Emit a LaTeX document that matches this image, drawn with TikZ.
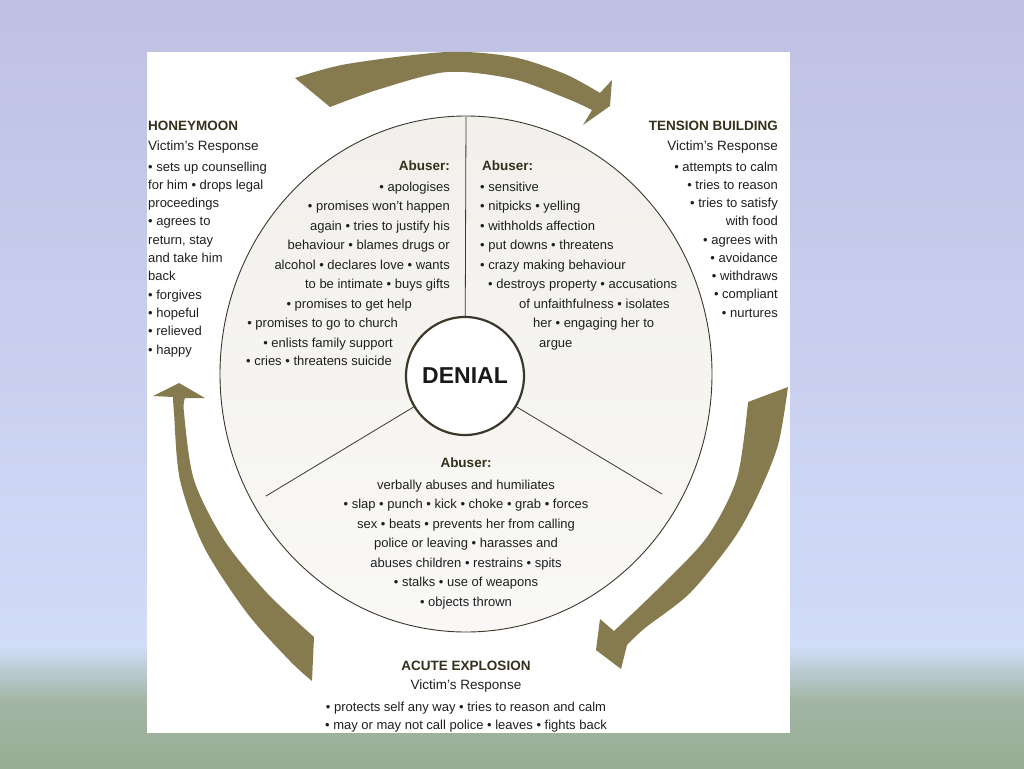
\documentclass[tikz,border=0pt]{standalone}
\usepackage{fontspec}
\setmainfont{Liberation Sans}
\usetikzlibrary{shapes.geometric}
\definecolor{bgtop}{HTML}{BFC1E2}
\definecolor{bgmid}{HTML}{D1DCF9}
\definecolor{bggrn}{HTML}{A3B5A5}
\definecolor{bgbot}{HTML}{97AD93}
\definecolor{olive}{HTML}{867B4F}
\definecolor{rim}{HTML}{3B382A}
\definecolor{ink}{HTML}{1F1F1F}
\definecolor{ttlink}{HTML}{33301C}

\begin{document}
\begin{tikzpicture}[x=1pt,y=-1pt,
  body/.style={text=ink,font=\fontsize{13}{15}\selectfont,inner sep=0pt},
  sub/.style={text=ink,font=\fontsize{13.5}{15}\selectfont,inner sep=0pt},
  ttl/.style={text=ttlink,font=\fontsize{13.5}{15}\selectfont\bfseries,inner sep=0pt},
  band/.style={fill=olive,draw=none},
  divider/.style={draw=rim,line width=0.8pt}]
\useasboundingbox (0,0) rectangle (1024,768);
\shade[top color=bgtop,bottom color=bgmid] (0,0) rectangle (1024,646);
\shade[top color=bgmid,bottom color=bggrn] (0,646) rectangle (1024,700);
\shade[top color=bggrn,bottom color=bgbot] (0,700) rectangle (1024,768);
\fill[white] (147,52) rectangle (790,733);

\node[ellipse,draw=rim,line width=0.9pt,top color=black!5!olive!11,bottom color=olive!5,minimum width=492pt,minimum height=516pt,inner sep=0pt] (cyc) at (466,374) {};
\node[circle,draw=rim,line width=2.2pt,fill=white,minimum size=118pt,inner sep=0pt,text=black!90,font=\fontsize{23}{25}\selectfont\bfseries] (denial) at (465,376) {DENIAL};
\coordinate (e1) at (466,117);
\coordinate (e2) at (266,496);
\coordinate (e3) at (662,494);
\draw[divider] (denial) -- (e1);
\draw[divider] (denial) -- (e2);
\draw[divider] (denial) -- (e3);

\fill[band] (295,78) -- plot[smooth] coordinates {(295,78) (347,64) (447,52) (513,57) (565,74) (600,93)} -- (612,80) -- (610,106) -- (583,125) -- plot[smooth] coordinates {(592,110) (568,99) (513,79) (447,72) (380,89) (330,107)} -- cycle;
\fill[band] (788,387) -- plot[smooth] coordinates {(788,387) (778,445) (757,497) (733,540) (690,593) (645,628) (627,645)} -- (621,669) -- (596,650) -- (600,619) -- plot[smooth] coordinates {(614,631) (660,587) (707,537) (737,478) (748,402)} -- cycle;
\fill[band] (312,681) -- plot[smooth] coordinates {(312,681) (290,661) (247,613) (204,547) (180,480) (174,413) (173,397)} -- (153,396) -- (179,383) -- (205,398) -- plot[smooth] coordinates {(185,398) (184,413) (194,480) (224,540) (267,593) (314,637)} -- cycle;

\node[ttl,anchor=base west] (hmttl) at (148,130) {HONEYMOON};
\node[sub,anchor=base west] (hmsub) at (148,150) {Victim’s Response};
\foreach \t [count=\i] in {• sets up counselling,for him • drops legal,proceedings,• agrees to,{return, stay},and take him,back,• forgives,• hopeful,• relieved,• happy}
  \node[body,anchor=base west] (hm\i) at (148,{171+(\i-1)*18.3}) {\t};

\node[ttl,anchor=base east] (tbttl) at (778,130) {TENSION BUILDING};
\node[sub,anchor=base east] (tbsub) at (778,150) {Victim’s Response};
\foreach \t [count=\i] in {• attempts to calm,• tries to reason,• tries to satisfy,with food,• agrees with,• avoidance,• withdraws,• compliant,• nurtures}
  \node[body,anchor=base east] (tb\i) at (778,{171+(\i-1)*18.25}) {\t};

\node[ttl,anchor=base east] (ulab) at (450,170) {Abuser:};
\foreach \x/\y/\t [count=\i] in {450/191/• apologises,450/210.5/• promises won’t happen,450/230/again • tries to justify his,450/249.5/behaviour • blames drugs or,450/269/alcohol • declares love • wants,450/288.5/to be intimate • buys gifts,412/308/• promises to get help,398/327.5/• promises to go to church,393/347/• enlists family support,392/365/• cries • threatens suicide}
  \node[body,anchor=base east] (ul\i) at (\x,\y) {\t};

\node[ttl,anchor=base west] (urab) at (482,170) {Abuser:};
\foreach \x/\y/\t [count=\i] in {480/191/• sensitive,480/210.5/• nitpicks • yelling,480/230/• withholds affection,480/249.5/• put downs • threatens,480/269/• crazy making behaviour,488/288.5/• destroys property • accusations,519/308/of unfaithfulness • isolates,533/327.5/her • engaging her to,539/347/argue}
  \node[body,anchor=base west] (ur\i) at (\x,\y) {\t};

\node[ttl,anchor=base] (bab) at (466,467) {Abuser:};
\foreach \t [count=\i] in {verbally abuses and humiliates,• slap • punch • kick • choke • grab • forces,sex • beats • prevents her from calling,police or leaving • harasses and,abuses children • restrains • spits,• stalks • use of weapons,• objects thrown}
  \node[body,anchor=base] (ba\i) at (466,{489+(\i-1)*19.5}) {\t};

\node[ttl,anchor=base] (aettl) at (466,670) {ACUTE EXPLOSION};
\node[sub,anchor=base] (aesub) at (466,689) {Victim’s Response};
\node[body,anchor=base] (ae1) at (466,711.5) {• protects self any way • tries to reason and calm};
\node[body,anchor=base] (ae2) at (466,729.5) {• may or may not call police • leaves • fights back};
\end{tikzpicture}
\end{document}
